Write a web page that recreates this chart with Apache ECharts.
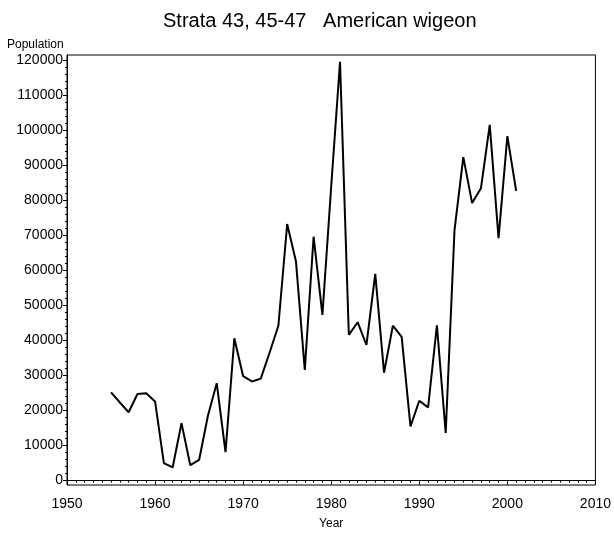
<!DOCTYPE html>
<html>
<head>
<meta charset="utf-8">
<script src="https://cdn.jsdelivr.net/npm/echarts@6/dist/echarts.min.js"></script>
<style>
  html, body { margin: 0; padding: 0; background: #fff; }
  #chart { width: 614px; height: 539px; }
</style>
</head>
<body>
<div id="chart"></div>
<script>
// survey years and estimated population
const years = [1955, 1956, 1957, 1958, 1959, 1960, 1961, 1962, 1963, 1964,
  1965, 1966, 1967, 1968, 1969, 1970, 1971, 1972, 1973, 1974,
  1975, 1976, 1977, 1978, 1979, 1980, 1981, 1982, 1983, 1984,
  1985, 1986, 1987, 1988, 1989, 1990, 1991, 1992, 1993, 1994,
  1995, 1996, 1997, 1998, 1999, 2000, 2001]
const population = [25200, 22300, 19500, 24700, 24900, 22600, 5000, 3800, 16400, 4400,
  5900, 18500, 27800, 8100, 40600, 29800, 28300, 29100, 36500, 44200,
  73200, 62500, 31600, 69600, 47300, 84000, 119500, 41600, 45200, 38700,
  59000, 30800, 44200, 41000, 15500, 22800, 20900, 44300, 13600, 71500,
  92300, 79200, 83400, 101500, 69200, 98300, 82700]
const yTicks = [0, 10000, 20000, 30000, 40000, 50000, 60000, 70000, 80000, 90000, 100000, 110000, 120000]
const yMinorTicks = []
for (let v = 0; v <= 120000; v += 2000) yMinorTicks.push(v)

const font = 'Liberation Sans, Arial, sans-serif'
const yMin = -1250
const yMax = 121450

let myChart = echarts.init(document.getElementById('chart'))
myChart.setOption({
  animation: false,
  title: [
    {
      text: 'Strata 43, 45-47   American wigeon',
      left: 158,
      top: 6,
      textStyle: { color: '#000', fontSize: 20, fontWeight: 'normal', fontFamily: font },
    },
    {
      text: 'Population',
      left: 2,
      top: 34,
      textStyle: { color: '#000', fontSize: 12, fontWeight: 'normal', fontFamily: font },
    },
  ],
  grid: {
    left: 67,
    right: 17,
    top: 55,
    bottom: 54,
    show: true,
    borderColor: '#000',
    borderWidth: 1,
  },
  xAxis: {
    type: 'value',
    min: 1950,
    max: 2010,
    interval: 10,
    name: 'Year',
    nameLocation: 'middle',
    nameGap: 33,
    nameTextStyle: { color: '#000', fontSize: 12, fontFamily: font },
    axisLine: { lineStyle: { color: '#000', width: 1 } },
    axisTick: { length: 4, lineStyle: { color: '#000' } },
    minorTick: { show: true, splitNumber: 10, length: 2, lineStyle: { color: '#000' } },
    axisLabel: { color: '#000', fontSize: 14, fontFamily: font, margin: 12, formatter: (v) => String(v) },
    splitLine: { show: false },
  },
  yAxis: [
    {
      type: 'value',
      min: yMin,
      max: yMax,
      axisLine: { show: true, lineStyle: { color: '#000', width: 1 } },
      axisTick: { show: true, length: 4, customValues: yTicks, lineStyle: { color: '#000' } },
      axisLabel: {
        color: '#000', fontSize: 14, fontFamily: font, margin: 4,
        customValues: yTicks, formatter: (v) => String(v),
      },
      splitLine: { show: false },
    },
    {
      type: 'value',
      min: yMin,
      max: yMax,
      position: 'left',
      offset: 0,
      axisLine: { show: false },
      axisTick: { show: true, length: 2, customValues: yMinorTicks, lineStyle: { color: '#000' } },
      axisLabel: { show: false },
      splitLine: { show: false },
    },
  ],
  series: [
    {
      type: 'line',
      yAxisIndex: 0,
      data: years.map((y, i) => [y, population[i]]),
      showSymbol: false,
      lineStyle: { color: '#000', width: 2 },
    },
  ],
})
</script>
</body>
</html>
